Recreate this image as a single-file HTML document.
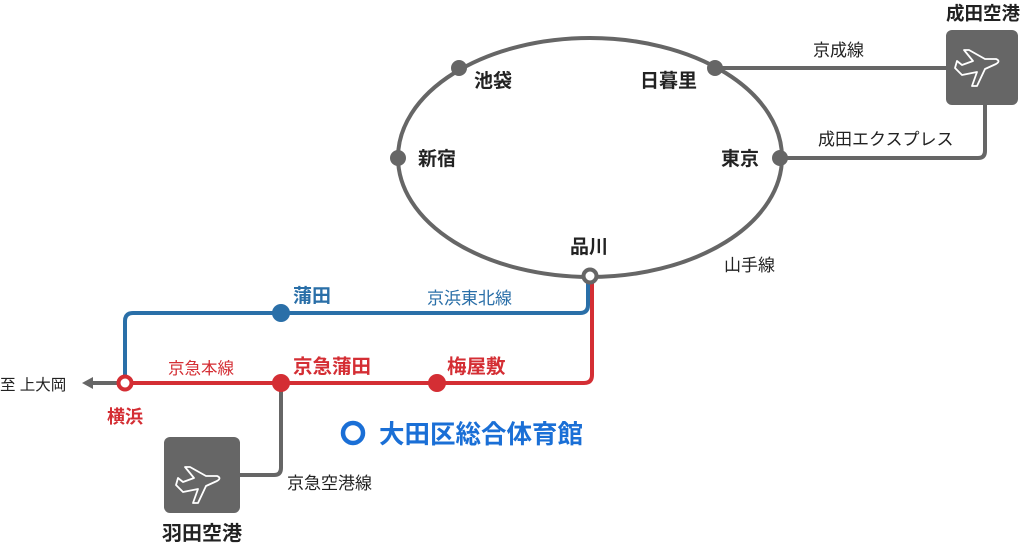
<!DOCTYPE html>
<html><head><meta charset="utf-8"><style>
html,body{margin:0;padding:0;background:#fff;}
svg text{font-family:"Liberation Sans","Noto Sans CJK JP",sans-serif;}
</style></head><body>
<svg width="1024" height="548" viewBox="0 0 1024 548" xmlns="http://www.w3.org/2000/svg">
<g fill="none" stroke-width="4" stroke-linejoin="round">
<ellipse cx="590" cy="157.5" rx="192" ry="119.5" stroke="#666"/>
<path d="M715 68 H946" stroke="#666"/>
<path d="M779 158 H978 Q985 158 985 151 V105" stroke="#666"/>
<path d="M588 278 V305 Q588 313 580 313 H133 Q125 313 125 321 V383" stroke="#2a6fa8"/>
<path d="M592 278 V375 Q592 383 584 383 H125" stroke="#d42e34"/>
<path d="M281 383 V468 Q281 475 274 475 H240" stroke="#666"/>
<path d="M118 383 H90" stroke="#666"/>
</g>
<polygon points="82,383 93,377 93,389" fill="#666"/>
<g fill="#666">
<circle cx="459" cy="68" r="8"/><circle cx="715" cy="68" r="8"/>
<circle cx="398" cy="158" r="8"/><circle cx="780" cy="158" r="8"/>
</g>
<circle cx="590" cy="276" r="6.5" fill="#fff" stroke="#666" stroke-width="4"/>
<circle cx="281" cy="313" r="9" fill="#2a6fa8"/>
<circle cx="281" cy="383" r="9" fill="#d42e34"/>
<circle cx="437" cy="383" r="9" fill="#d42e34"/>
<circle cx="125" cy="383" r="6.5" fill="#fff" stroke="#d42e34" stroke-width="4"/>
<circle cx="353" cy="433" r="10" fill="none" stroke="#1a6fd6" stroke-width="4.5"/>
<rect x="946" y="30" width="72" height="75" rx="6" fill="#666"/>
<rect x="164" y="437" width="76" height="76" rx="6" fill="#666"/>
<g fill="none" stroke="#fff" stroke-width="1.8" stroke-linejoin="round">
<path d="M955 68 l7 7 l15 -3 l-5 14 h5 l8 -17 l11 -5 q5 -3 0 -5 l-11 0 l-16 -9 h-5 l9 11 l-11 4 l-5 -4 z"/>
<path d="M176 485 l7 7 l15 -3 l-5 14 h5 l8 -17 l11 -5 q5 -3 0 -5 l-11 0 l-16 -9 h-5 l9 11 l-11 4 l-5 -4 z"/>
</g>
<g font-size="19" font-weight="bold" fill="#222">
<text x="474" y="87">池袋</text>
<text x="640" y="87">日暮里</text>
<text x="418" y="165">新宿</text>
<text x="721" y="165">東京</text>
<text x="570" y="253">品川</text>
<text x="946" y="20" font-size="18.5">成田空港</text>
<text x="162" y="540" font-size="20">羽田空港</text>
</g>
<g font-size="17" fill="#222">
<text x="724" y="271">山手線</text>
<text x="813" y="56">京成線</text>
<text x="818" y="145">成田エクスプレス</text>
<text x="287" y="489">京急空港線</text>
<text x="0" y="390" font-size="15.5">至 上大岡</text>
</g>
<text x="293" y="302" font-size="19" font-weight="bold" fill="#2a6fa8">蒲田</text>
<text x="427" y="304" font-size="17" fill="#2a6fa8">京浜東北線</text>
<g fill="#d42e34">
<text x="168" y="374" font-size="16.5">京急本線</text>
<text x="293" y="373" font-size="19.5" font-weight="bold">京急蒲田</text>
<text x="447" y="373" font-size="19.5" font-weight="bold">梅屋敷</text>
<text x="107" y="423" font-size="18" font-weight="bold">横浜</text>
</g>
<text x="379" y="443" font-size="25.5" font-weight="bold" fill="#1a6fd6">大田区総合体育館</text>
</svg>
</body></html>
